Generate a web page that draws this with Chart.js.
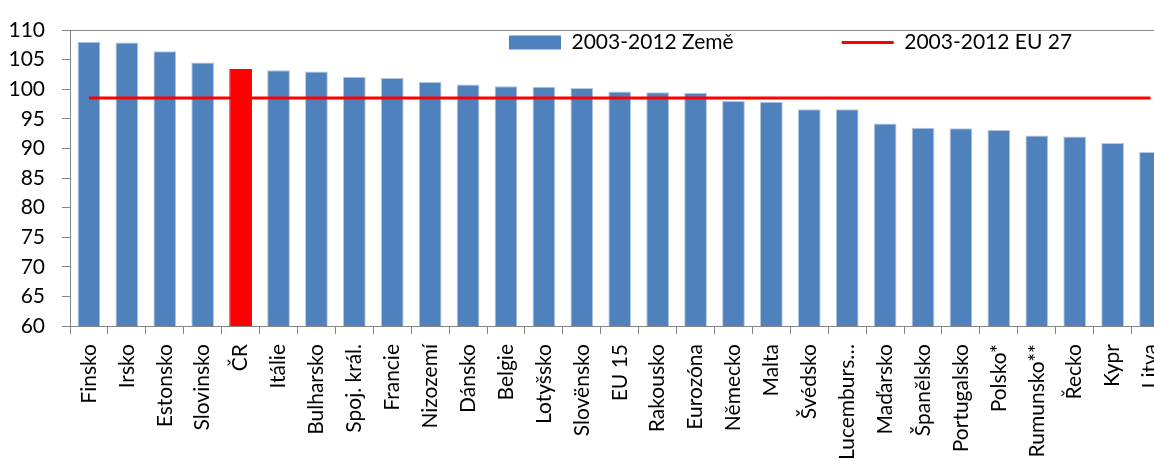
<!DOCTYPE html>
<html>
<head>
<meta charset="utf-8">
<script src="https://cdn.jsdelivr.net/npm/chart.js@4.4.1/dist/chart.umd.min.js"></script>
<style>
  html, body { margin: 0; padding: 0; background: #fff; overflow: hidden; }
  #wrap { width: 1186px; height: 468px; }
</style>
</head>
<body>
<div id="wrap"><canvas id="chart" width="1186" height="468"></canvas></div>
<script>
const countries = ['Finsko', 'Irsko', 'Estonsko', 'Slovinsko', 'ČR', 'Itálie', 'Bulharsko', 'Spoj. král.',
  'Francie', 'Nizozemí', 'Dánsko', 'Belgie', 'Lotyšsko', 'Slovënsko', 'EU 15', 'Rakousko', 'Eurozóna',
  'Německo', 'Malta', 'Švédsko', 'Lucemburs…', 'Maďarsko', 'Španělsko', 'Portugalsko', 'Polsko*',
  'Rumunsko**', 'Řecko', 'Kypr', 'Litva'];
const countryValues = [108.0, 107.9, 106.4, 104.5, 103.4, 103.2, 103.0, 102.1,
  101.9, 101.2, 100.8, 100.5, 100.4, 100.2, 99.6, 99.5, 99.4,
  98.0, 97.9, 96.6, 96.6, 94.2, 93.5, 93.4, 93.1,
  92.2, 92.0, 90.9, 89.4];
const eu27Value = 98.5;
const eu27Values = countries.map(() => eu27Value);
const seriesNames = ['2003-2012 Země', '2003-2012 EU 27'];
const highlight = 'ČR';

const blue = '#4F81BD';
const red = '#FF0000';
const axisGray = '#868686';

Chart.defaults.font.family = 'Lato';
Chart.defaults.font.size = 21;
Chart.defaults.color = '#000';

// legend sits inside the plot area, like in the original spreadsheet chart
const legendInside = {
  id: 'legendInside',
  beforeInit(chart) {
    const fit = chart.legend.fit;
    chart.legend.fit = function () {
      fit.call(this);
      this.height = 0;
    };
  },
  afterLayout(chart) {
    const lg = chart.legend;
    const pad = lg.options.labels.padding;
    lg.left = 509 - pad;
    lg.top = 32 - pad;
    lg.right = chart.width + 400;
    lg.bottom = 70;
  }
};

new Chart(document.getElementById('chart').getContext('2d'), {
  type: 'bar',
  data: {
    labels: countries,
    datasets: [
      {
        label: seriesNames[0],
        data: countryValues,
        backgroundColor: countries.map(c => c === highlight ? red : blue),
        borderColor: countries.map(c => c === highlight ? red : '#B4C8E3'),
        borderWidth: 1,
        barPercentage: 0.6,
        categoryPercentage: 1,
        order: 2
      },
      {
        type: 'line',
        label: seriesNames[1],
        data: eu27Values,
        borderColor: red,
        backgroundColor: red,
        borderWidth: 3,
        pointRadius: 0,
        fill: false,
        order: 1
      }
    ]
  },
  options: {
    responsive: false,
    animation: false,
    layout: { padding: { top: 22, left: 0, right: 2, bottom: 0 } },
    plugins: {
      tooltip: { enabled: false },
      legend: {
        display: true,
        position: 'top',
        align: 'start',
        labels: {
          usePointStyle: true,
          pointStyleWidth: 52,
          boxHeight: 14,
          padding: 108,
          font: { size: 21 },
          sort: (a, b) => a.datasetIndex - b.datasetIndex,
          generateLabels(chart) {
            const items = Chart.defaults.plugins.legend.labels.generateLabels(chart);
            items.forEach(it => {
              if (it.datasetIndex === 0) {
                it.pointStyle = 'rect';
                it.fillStyle = blue;
                it.strokeStyle = blue;
                it.lineWidth = 0;
              } else {
                it.pointStyle = 'line';
                it.fillStyle = red;
                it.strokeStyle = red;
                it.lineWidth = 3;
              }
            });
            return items;
          }
        }
      }
    },
    scales: {
      x: {
        grid: { drawOnChartArea: false, drawTicks: true, tickLength: 8, color: axisGray, offset: true },
        border: { color: axisGray, width: 1 },
        ticks: { autoSkip: false, maxRotation: 90, minRotation: 90, padding: 10, font: { size: 21 } },
        afterFit(scale) { scale.height = 142; }
      },
      xTop: {
        axis: 'x',
        position: 'top',
        grid: { display: false },
        ticks: { display: false },
        border: { display: true, color: axisGray, width: 1 }
      },
      y: {
        min: 60,
        max: 110,
        grid: { drawOnChartArea: false, drawTicks: true, tickLength: 8, color: axisGray },
        border: { color: axisGray, width: 1 },
        ticks: { stepSize: 5, padding: 17, font: { size: 21 } },
        afterFit(scale) { scale.width = 70; }
      }
    }
  },
  plugins: [legendInside]
});
</script>
</body>
</html>
